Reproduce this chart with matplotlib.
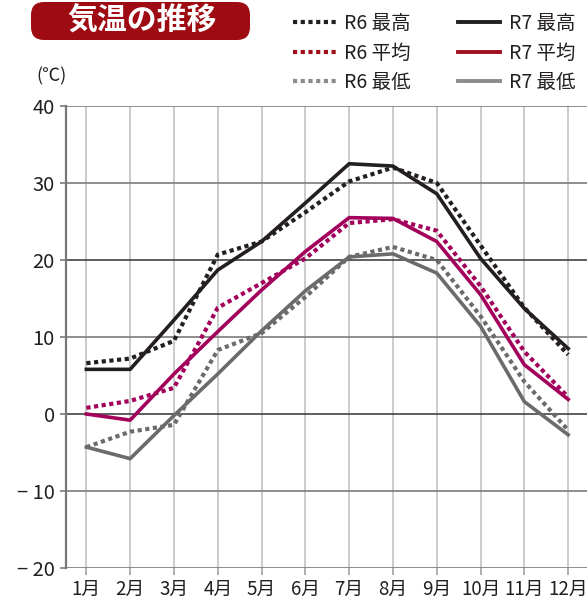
import numpy as np
import matplotlib
matplotlib.use('Agg')
import matplotlib.pyplot as plt
from matplotlib.lines import Line2D
from matplotlib.patches import FancyBboxPatch

plt.rcParams['font.family'] = ['Noto Sans CJK JP', 'DejaVu Sans']

months = np.arange(1, 13)
month_labels = [f'{m}月' for m in months]

r6_max = [6.6, 7.2, 9.5, 20.7, 22.4, 26.2, 30.2, 32.0, 30.0, 21.9, 13.8, 7.7]
r7_max = [5.8, 5.8, 12.2, 18.7, 22.4, 27.4, 32.5, 32.2, 28.6, 20.2, 13.7, 8.5]
r6_avg = [0.8, 1.7, 3.4, 13.8, 17.0, 20.2, 24.8, 25.3, 23.8, 16.6, 8.1, 2.2]
r7_avg = [0.0, -0.8, 5.2, 10.7, 16.1, 21.1, 25.5, 25.4, 22.4, 15.5, 6.4, 1.9]
r6_min = [-4.3, -2.3, -1.4, 8.3, 10.5, 15.2, 20.4, 21.7, 20.0, 12.7, 4.2, -2.1]
r7_min = [-4.3, -5.8, -0.2, 5.2, 10.8, 16.0, 20.4, 20.8, 18.3, 11.4, 1.6, -2.7]

y_ticks = [40, 30, 20, 10, 0, -10, -20]
y_tick_labels = ['40', '30', '20', '10', '0', '− 10', '− 20']
dark_lines = [20, 0]

c_max = '#231f20'
c_avg = '#a3005c'
c_min = '#6b6b6b'

fig = plt.figure(figsize=(5.87, 6.07), dpi=100)
ax = fig.add_axes([66 / 587, 1 - 568 / 607, 1 - 66 / 587, (568 - 106) / 607])

# grid
for m in months:
    ax.axvline(m, color='#bdbdbd', lw=1.1, zorder=1)
for v in y_ticks:
    if v in dark_lines:
        ax.axhline(v, color='#333333', lw=1.1, zorder=1.5)
    else:
        ax.axhline(v, color='#858585', lw=1.3, zorder=1.5)

dot = (0, (1, 0.85))
ax.plot(months, r7_min, color=c_min, lw=2.6, zorder=3)
ax.plot(months, r6_min, color=c_min, lw=3.0, ls=dot, zorder=3)
ax.plot(months, r7_avg, color=c_avg, lw=2.6, zorder=3)
ax.plot(months, r6_avg, color=c_avg, lw=3.0, ls=dot, zorder=3)
ax.plot(months, r7_max, color=c_max, lw=2.6, zorder=3)
ax.plot(months, r6_max, color=c_max, lw=3.0, ls=dot, zorder=3)

ax.set_xlim(0.535, 12.43)
ax.set_ylim(-20, 40)
ax.set_xticks(months)
ax.set_xticklabels(month_labels, fontsize=13.5, color='#231f20')
ax.set_yticks(y_ticks)
ax.set_yticklabels(y_tick_labels, fontsize=14.5, color='#231f20')
ax.tick_params(axis='x', length=5, width=1.1, color='#999999', pad=3)
ax.tick_params(axis='y', length=4, width=1.3, color='#858585', pad=4)
for s in ['top', 'right', 'bottom']:
    ax.spines[s].set_visible(False)
ax.spines['left'].set_color('#777777')
ax.spines['left'].set_linewidth(1.6)

# title box
box = FancyBboxPatch((0.31, 6.07 - 0.40), 2.19, 0.38,
                     boxstyle='round,pad=0,rounding_size=0.13',
                     transform=fig.dpi_scale_trans, facecolor='#9e0b12',
                     edgecolor='none')
fig.patches.append(box)
fig.text(142 / 587, 1 - 21 / 607, '気温の推移', color='white', fontsize=21.5,
         fontweight='bold', ha='center', va='center')

fig.text(36 / 587, 1 - 76 / 607, '(℃)', fontsize=13, color='#231f20',
         ha='left', va='center')

# legend
leg_handles = [
    Line2D([], [], color=c_max, lw=3.0, ls=dot),
    Line2D([], [], color='#a0101e', lw=3.0, ls=dot),
    Line2D([], [], color='#8c8c8c', lw=3.0, ls=dot),
    Line2D([], [], color=c_max, lw=2.8),
    Line2D([], [], color='#a0101e', lw=2.8),
    Line2D([], [], color='#8c8c8c', lw=2.8),
]
leg_labels = ['R6 最高', 'R6 平均', 'R6 最低', 'R7 最高', 'R7 平均', 'R7 最低']
fig.legend(leg_handles, leg_labels, ncol=2, loc='upper left',
           bbox_to_anchor=(283 / 587, 1 - 3 / 607), frameon=False,
           fontsize=14, handlelength=2.2, handletextpad=0.45,
           columnspacing=2.4, labelspacing=0.45, borderpad=0,
           labelcolor='#231f20')

fig.savefig('out.png', dpi=100)
